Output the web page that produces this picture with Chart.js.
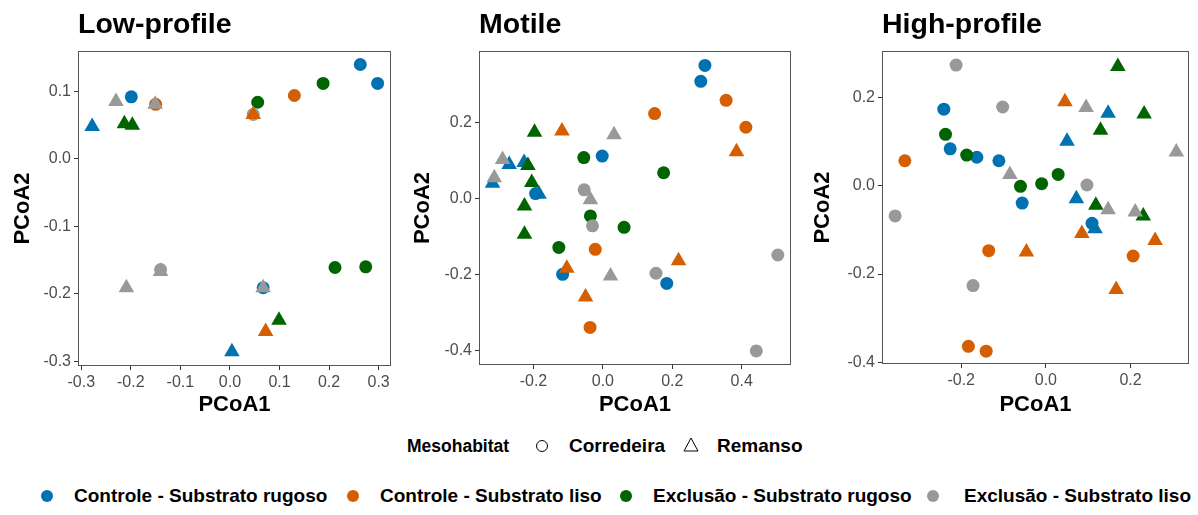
<!DOCTYPE html>
<html>
<head>
<meta charset="utf-8">
<script src="https://cdn.jsdelivr.net/npm/chart.js@4/dist/chart.umd.min.js"></script>
<style>
  body { margin: 0; background: #fff; width: 1198px; height: 515px; position: relative; overflow: hidden;
         font-family: "Liberation Sans", Arial, sans-serif; }
  canvas { position: absolute; top: 0; }
  .lg { position: absolute; font-weight: bold; font-size: 19px; line-height: 20px; color: #000; white-space: nowrap; }
  .lgt { font-size: 17.5px; }
  .dot { position: absolute; width: 12px; height: 12px; border-radius: 50%; }
</style>
</head>
<body>
<canvas id="lowChart" width="400" height="420" style="left:0px"></canvas>
<canvas id="motileChart" width="400" height="420" style="left:400px"></canvas>
<canvas id="highChart" width="398" height="420" style="left:800px"></canvas>

<div class="lg lgt" style="left:407px;top:436px">Mesohabitat</div>
<div class="dot" style="left:536px;top:440px;width:12px;height:12px;border:1px solid #000;box-sizing:border-box"></div>
<div class="lg" style="left:569px;top:436px">Corredeira</div>
<svg style="position:absolute;left:683px;top:437px" width="16" height="15"><polygon points="8,1 15,14 1,14" fill="none" stroke="#000" stroke-width="1"/></svg>
<div class="lg" style="left:717px;top:436px">Remanso</div>

<div id="seriesLegend"></div>

<script>
// grupos e mesohabitats
let groups = ["Controle - Substrato rugoso", "Controle - Substrato liso", "Exclusão - Substrato rugoso", "Exclusão - Substrato liso"];
let mesohabitats = ["Corredeira", "Remanso"];
let groupColors = ["#0072B2", "#D55E00", "#006400", "#999999"];

// Low-profile: [PCoA1, PCoA2]
let lowCRcorr = [[0.263, 0.140], [0.298, 0.112], [-0.199, 0.092], [0.067, -0.191]];
let lowCRrem  = [[-0.278, 0.048], [0.004, -0.286]];
let lowCLcorr = [[0.130, 0.094], [-0.150, 0.081]];
let lowCLrem  = [[0.047, 0.066], [0.072, -0.256]];
let lowERcorr = [[0.056, 0.084], [0.188, 0.112], [0.212, -0.161], [0.274, -0.160]];
let lowERrem  = [[-0.213, 0.052], [-0.197, 0.050], [0.099, -0.239]];
let lowELcorr = [[0.047, 0.066], [-0.140, -0.164]];
let lowELrem  = [[-0.230, 0.085], [-0.151, 0.081], [-0.209, -0.191], [-0.140, -0.167], [0.067, -0.191]];

// Motile
let motCRcorr = [[0.294, 0.351], [0.282, 0.309], [-0.002, 0.112], [-0.194, 0.013], [-0.116, -0.200], [0.184, -0.224]];
let motCRrem  = [[-0.318, 0.040], [-0.270, 0.090], [-0.227, 0.095], [-0.184, 0.011]];
let motCLcorr = [[0.149, 0.224], [0.355, 0.259], [0.412, 0.188], [-0.022, -0.134], [-0.037, -0.340]];
let motCLrem  = [[-0.118, 0.178], [0.385, 0.123], [0.218, -0.164], [-0.104, -0.184], [-0.050, -0.260]];
let motERcorr = [[-0.055, 0.108], [0.175, 0.068], [-0.036, -0.046], [0.061, -0.076], [-0.127, -0.129]];
let motERrem  = [[-0.197, 0.175], [-0.216, 0.087], [-0.205, 0.042], [-0.226, -0.020], [-0.226, -0.094]];
let motELcorr = [[-0.054, 0.023], [-0.030, -0.072], [0.153, -0.197], [0.504, -0.149], [0.442, -0.402]];
let motELrem  = [[0.032, 0.168], [-0.289, 0.103], [-0.313, 0.055], [-0.036, -0.003], [0.022, -0.204]];

// High-profile
let highCRcorr = [[-0.241, 0.174], [-0.226, 0.084], [-0.163, 0.065], [-0.111, 0.057], [-0.056, -0.039], [0.109, -0.085]];
let highCRrem  = [[0.050, 0.101], [0.147, 0.165], [0.072, -0.029], [0.116, -0.097]];
let highCLcorr = [[-0.333, 0.057], [-0.135, -0.147], [0.206, -0.159], [-0.183, -0.364], [-0.141, -0.375]];
let highCLrem  = [[0.045, 0.191], [0.258, -0.124], [0.085, -0.108], [-0.046, -0.150], [0.166, -0.235]];
let highERcorr = [[-0.237, 0.117], [-0.187, 0.070], [-0.060, -0.001], [-0.010, 0.005], [0.029, 0.026]];
let highERrem  = [[0.170, 0.271], [0.232, 0.163], [0.129, 0.126], [0.118, -0.044], [0.230, -0.068]];
let highELcorr = [[-0.212, 0.274], [-0.102, 0.179], [-0.356, -0.068], [-0.172, -0.226], [0.097, 0.002]];
let highELrem  = [[0.095, 0.178], [0.308, 0.077], [-0.085, 0.026], [0.147, -0.054], [0.211, -0.059]];

const FONT = "'Liberation Sans', Arial, sans-serif";

// moldura do painel (estilo ggplot)
const panelBorder = {
    id: "panelBorder",
    afterDatasetsDraw(chart) {
        const a = chart.chartArea;
        const ctx = chart.ctx;
        ctx.save();
        ctx.strokeStyle = "#555";
        ctx.lineWidth = 1;
        ctx.strokeRect(Math.round(a.left) + 0.5, Math.round(a.top) + 0.5,
                       Math.round(a.right - a.left) - 1, Math.round(a.bottom - a.top) - 1);
        ctx.restore();
    }
};

function toPoints(arr) {
    return arr.map(p => ({x: p[0], y: p[1]}));
}

function fmt(v) {
    return Math.abs(v) < 1e-9 ? "0.0" : v.toFixed(1);
}

function axis(min, max, step, title, pad, fitSize, horizontal) {
    return {
        type: "linear",
        min: min,
        max: max,
        ticks: {
            stepSize: step,
            includeBounds: false,
            autoSkip: false,
            maxRotation: 0,
            padding: 3,
            color: "#4d4d4d",
            font: {family: FONT, size: 16},
            callback: fmt
        },
        grid: {display: true, drawOnChartArea: false, drawTicks: true, tickLength: 4, color: "#333"},
        border: {display: false},
        title: {display: true, text: title, color: "#000", padding: pad,
                font: {family: FONT, size: 22, weight: "bold"}},
        afterFit(scale) {
            if (horizontal) scale.height = fitSize; else scale.width = fitSize;
        }
    };
}

function makePanel(id, title, circles, triangles, xr, yr, xStep, yStep, yW, xH, padRight) {
    let datasets = [];
    // triângulos por cima dos círculos; cinza por cima
    for (let g = 3; g >= 0; g--) {
        datasets.push({
            label: groups[g] + " / " + mesohabitats[1],
            data: toPoints(triangles[g]),
            pointStyle: "triangle",
            pointRadius: 9,
            backgroundColor: groupColors[g],
            borderWidth: 0,
            order: 1
        });
    }
    for (let g = 3; g >= 0; g--) {
        datasets.push({
            label: groups[g] + " / " + mesohabitats[0],
            data: toPoints(circles[g]),
            pointStyle: "circle",
            pointRadius: 6.5,
            backgroundColor: groupColors[g],
            borderWidth: 0,
            order: 2
        });
    }
    new Chart(id, {
        type: "scatter",
        data: {datasets: datasets},
        options: {
            responsive: false,
            animation: false,
            events: [],
            layout: {padding: {right: padRight, top: 0, bottom: 0, left: 0}},
            scales: {
                x: axis(xr[0], xr[1], xStep, "PCoA1", {top: 0, bottom: 2}, xH, true),
                y: axis(yr[0], yr[1], yStep, "PCoA2", {top: 10, bottom: 0}, yW, false)
            },
            plugins: {
                legend: {display: false},
                tooltip: {enabled: false},
                title: {
                    display: true,
                    text: title,
                    align: "start",
                    fullSize: false,
                    color: "#000",
                    font: {family: FONT, size: 28.5, weight: "bold"},
                    padding: {top: 8, bottom: 8.8}
                }
            }
        },
        plugins: [panelBorder]
    });
}

makePanel("lowChart", "Low-profile",
    [lowCRcorr, lowCLcorr, lowERcorr, lowELcorr],
    [lowCRrem, lowCLrem, lowERrem, lowELrem],
    [-0.3066, 0.325], [-0.307, 0.160], 0.1, 0.1, 78, 54, 8);

makePanel("motileChart", "Motile",
    [motCRcorr, motCLcorr, motERcorr, motELcorr],
    [motCRrem, motCLrem, motERrem, motELrem],
    [-0.357, 0.542], [-0.439, 0.389], 0.2, 0.2, 79, 55, 7);

makePanel("highChart", "High-profile",
    [highCRcorr, highCLcorr, highERcorr, highELcorr],
    [highCRrem, highCLrem, highERrem, highELrem],
    [-0.387, 0.338], [-0.404, 0.306], 0.2, 0.2, 82, 56, 4);

// legenda dos grupos
let dotX = [47, 353, 626, 933];
let textX = [74, 380, 653, 964];
let legendEl = document.getElementById("seriesLegend");
groups.forEach((g, i) => {
    let d = document.createElement("div");
    d.className = "dot";
    d.style.left = (dotX[i] - 6) + "px";
    d.style.top = "490px";
    d.style.background = groupColors[i];
    legendEl.appendChild(d);
    let t = document.createElement("div");
    t.className = "lg";
    t.style.left = textX[i] + "px";
    t.style.top = "486px";
    t.textContent = g;
    legendEl.appendChild(t);
});
</script>
</body>
</html>
